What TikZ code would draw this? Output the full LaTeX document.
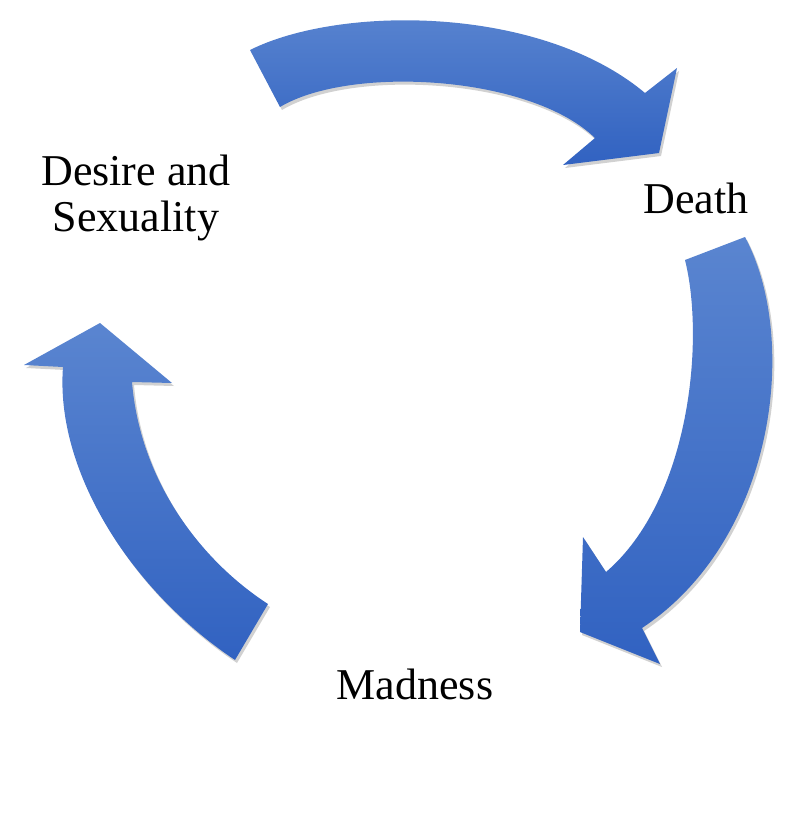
\documentclass[tikz,border=0pt]{standalone}
\usepackage{fontspec}
\setmainfont{Liberation Serif}
\usetikzlibrary{shadows}
\definecolor{atop}{HTML}{5A85D0}
\definecolor{abot}{HTML}{3162C1}
\tikzset{
  arrowshape/.style={top color=atop,bottom color=abot,draw=none,
    drop shadow={shadow xshift=2pt,shadow yshift=-3pt,opacity=0.18,fill=black}},
  lab/.style={font=\fontsize{44}{46}\selectfont,align=center,inner sep=0pt}
}
\begin{document}
\begin{tikzpicture}[x=1pt,y=-1pt]
\useasboundingbox (0,0) rectangle (793,840);
% top arrow
\path[arrowshape] (250,50) .. controls (340,5) and (540,5) .. (645,93)
  -- (677,68) -- (659,153) -- (563,165) -- (595,138)
  .. controls (530,75) and (350,65) .. (280,107) -- cycle;
% right arrow
\path[arrowshape] (745,237) .. controls (800,340) and (775,540) .. (642,628)
  -- (660,664) -- (580,632) -- (583,537) -- (606,572)
  .. controls (690,500) and (705,340) .. (685,260) -- cycle;
% left arrow
\path[arrowshape] (235,660) .. controls (130,590) and (55,470) .. (63,367)
  -- (24,365) -- (100,323) -- (172,383) -- (132,382)
  .. controls (140,480) and (200,560) .. (268,604) -- cycle;
\node[lab] (desire) at (136,198) {Desire and\\Sexuality};
\node[lab] (death) at (696,198) {Death};
\node[lab] (madness) at (415,684) {Madness};
\end{tikzpicture}
\end{document}
